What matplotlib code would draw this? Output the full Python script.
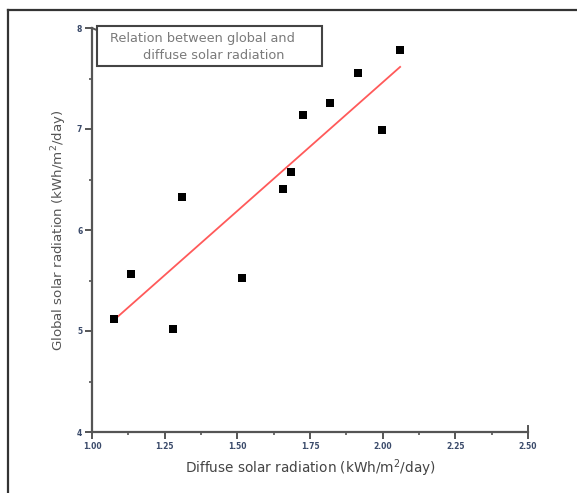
import numpy as np
import matplotlib
matplotlib.use("Agg")
import matplotlib.pyplot as plt
from matplotlib.lines import Line2D
from matplotlib.patches import Rectangle
from matplotlib.ticker import MultipleLocator

diffuse = [1.076, 1.135, 1.277, 1.308, 1.515, 1.657, 1.685, 1.726, 1.820, 1.916, 1.996, 2.060]
globalr = [5.12, 5.56, 5.02, 6.33, 5.52, 6.41, 6.57, 7.14, 7.26, 7.55, 6.99, 7.78]
xticks = [1.00, 1.25, 1.50, 1.75, 2.00, 2.25, 2.50]
yticks = [4, 5, 6, 7, 8]

plt.rcParams['font.family'] = ['DejaVu Sans']

fig = plt.figure(figsize=(5.77, 4.93), dpi=100)
ax = fig.add_axes([92/577, 1-432/493, (528-92)/577, (432-28)/493])

# outer frame of the picture
fig.add_artist(Line2D([8/577, 8/577], [0, 1-10/493], transform=fig.transFigure, color='#333333', lw=1.6))
fig.add_artist(Line2D([8/577, 1], [1-10/493, 1-10/493], transform=fig.transFigure, color='#333333', lw=1.6))

ax.scatter(diffuse, globalr, marker='s', s=26, color='black', zorder=3, linewidths=0)
coef = np.polyfit(diffuse, globalr, 1)
xf = np.array([min(diffuse), max(diffuse)])
ax.plot(xf, np.polyval(coef, xf), color='#ff5a5a', lw=1.3, zorder=2)

ax.set_xlim(1.0, 2.5)
ax.set_ylim(4, 8)
ax.set_xticks(xticks)
ax.set_xticklabels([f"{v:.2f}" for v in xticks])
ax.set_yticks(yticks)
ax.set_yticklabels([str(v) for v in yticks])
ax.xaxis.set_minor_locator(MultipleLocator(0.125))
ax.yaxis.set_minor_locator(MultipleLocator(0.5))
for s in ['top', 'right']:
    ax.spines[s].set_visible(False)
for s in ['left', 'bottom']:
    ax.spines[s].set_color('#555555')
    ax.spines[s].set_linewidth(1.6)
ax.tick_params(which='major', direction='out', length=5, width=1.4, color='#555555',
               labelsize=5.5, labelcolor='#3a4a6a', pad=2)
ax.tick_params(which='minor', direction='out', length=2.5, width=1.2, color='#555555')
for lab in ax.get_xticklabels() + ax.get_yticklabels():
    lab.set_fontweight('bold')

# end hooks of the axes
ax.plot([1.0, 1.012], [8, 7.985], color='#555555', lw=1.4, clip_on=False)
ax.plot([2.5, 2.5], [4, 4.06], color='#555555', lw=1.4, clip_on=False)

ax.set_xlabel("Diffuse solar radiation (kWh/m$^2$/day)", fontsize=9.8, color='#444444', labelpad=5)
ax.set_ylabel("Global solar radiation (kWh/m$^2$/day)", fontsize=9.6, color='#555555', labelpad=6)

# annotation box
ax.add_patch(Rectangle((0.0115, 0.906), 0.516, 0.099, transform=ax.transAxes, fill=True,
                       facecolor='white', edgecolor='#444444', linewidth=1.5, clip_on=False, zorder=4))
ax.text(0.041, 0.975, "Relation between global and", transform=ax.transAxes, fontsize=9.3,
        color='#7a7a7a', va='center', ha='left', zorder=5)
ax.text(0.117, 0.933, "diffuse solar radiation", transform=ax.transAxes, fontsize=9.3,
        color='#7a7a7a', va='center', ha='left', zorder=5)

fig.savefig("out.png", dpi=100)
